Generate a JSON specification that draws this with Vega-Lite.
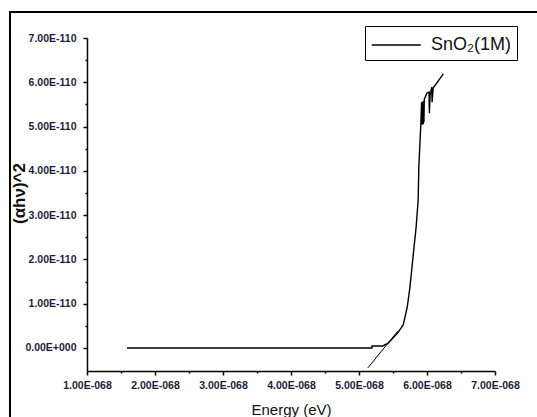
{
  "$schema": "https://vega.github.io/schema/vega-lite/v6.json",
  "autosize": {"type": "none"},
  "width": 529,
  "height": 407,
  "padding": {"left": 10, "top": 12, "right": -2, "bottom": -2},
  "background": "white",
  "config": {
    "view": {"stroke": "black", "strokeWidth": 2},
    "font": "Liberation Sans",
    "axis": {"grid": false, "domainColor": "black", "tickColor": "black"}
  },
  "datasets": {
    "curve": [
      {"i": 1, "energy": 1.588e-68, "ahv2": 0, "series": "SnO₂(1M)"},
      {"i": 2, "energy": 5.19e-68, "ahv2": 0, "series": "SnO₂(1M)"},
      {"i": 3, "energy": 5.19e-68, "ahv2": 0.045e-110, "series": "SnO₂(1M)"},
      {"i": 4, "energy": 5.35e-68, "ahv2": 0.045e-110, "series": "SnO₂(1M)"},
      {"i": 5, "energy": 5.43e-68, "ahv2": 0.11e-110, "series": "SnO₂(1M)"},
      {"i": 6, "energy": 5.57e-68, "ahv2": 0.34e-110, "series": "SnO₂(1M)"},
      {"i": 7, "energy": 5.65e-68, "ahv2": 0.52e-110, "series": "SnO₂(1M)"},
      {"i": 8, "energy": 5.71e-68, "ahv2": 0.93e-110, "series": "SnO₂(1M)"},
      {"i": 9, "energy": 5.75e-68, "ahv2": 1.38e-110, "series": "SnO₂(1M)"},
      {"i": 10, "energy": 5.79e-68, "ahv2": 1.99e-110, "series": "SnO₂(1M)"},
      {"i": 11, "energy": 5.84e-68, "ahv2": 2.73e-110, "series": "SnO₂(1M)"},
      {"i": 12, "energy": 5.87e-68, "ahv2": 3.34e-110, "series": "SnO₂(1M)"},
      {"i": 13, "energy": 5.88e-68, "ahv2": 4.09e-110, "series": "SnO₂(1M)"},
      {"i": 14, "energy": 5.91e-68, "ahv2": 5.08e-110, "series": "SnO₂(1M)"},
      {"i": 15, "energy": 5.92e-68, "ahv2": 5.55e-110, "series": "SnO₂(1M)"},
      {"i": 16, "energy": 5.925e-68, "ahv2": 5.05e-110, "series": "SnO₂(1M)"},
      {"i": 17, "energy": 5.93e-68, "ahv2": 5.56e-110, "series": "SnO₂(1M)"},
      {"i": 18, "energy": 5.935e-68, "ahv2": 5.04e-110, "series": "SnO₂(1M)"},
      {"i": 19, "energy": 5.94e-68, "ahv2": 5.57e-110, "series": "SnO₂(1M)"},
      {"i": 20, "energy": 5.945e-68, "ahv2": 5.06e-110, "series": "SnO₂(1M)"},
      {"i": 21, "energy": 5.95e-68, "ahv2": 5.55e-110, "series": "SnO₂(1M)"},
      {"i": 22, "energy": 5.955e-68, "ahv2": 5.10e-110, "series": "SnO₂(1M)"},
      {"i": 23, "energy": 5.96e-68, "ahv2": 5.62e-110, "series": "SnO₂(1M)"},
      {"i": 24, "energy": 6.00e-68, "ahv2": 5.76e-110, "series": "SnO₂(1M)"},
      {"i": 25, "energy": 6.03e-68, "ahv2": 5.78e-110, "series": "SnO₂(1M)"},
      {"i": 26, "energy": 6.035e-68, "ahv2": 5.30e-110, "series": "SnO₂(1M)"},
      {"i": 27, "energy": 6.045e-68, "ahv2": 5.70e-110, "series": "SnO₂(1M)"},
      {"i": 28, "energy": 6.07e-68, "ahv2": 5.89e-110, "series": "SnO₂(1M)"},
      {"i": 29, "energy": 6.075e-68, "ahv2": 5.55e-110, "series": "SnO₂(1M)"},
      {"i": 30, "energy": 6.09e-68, "ahv2": 5.87e-110, "series": "SnO₂(1M)"},
      {"i": 31, "energy": 6.24e-68, "ahv2": 6.19e-110, "series": "SnO₂(1M)"}
    ],
    "fit": [
      {"i": 1, "energy": 5.13e-68, "ahv2": -0.45e-110},
      {"i": 2, "energy": 5.57e-68, "ahv2": 0.38e-110}
    ]
  },
  "layer": [
    {
      "data": {"name": "curve"},
      "mark": {"type": "line", "strokeWidth": 1.4},
      "encoding": {
        "x": {
          "field": "energy", "type": "quantitative",
          "scale": {"domain": [1e-68, 7e-68], "range": [77, 485], "nice": false, "zero": false},
          "axis": {
            "orient": "bottom", "offset": -48,
            "values": [1e-68, 2e-68, 3e-68, 4e-68, 5e-68, 6e-68, 7e-68],
            "labelExpr": "replace(upper(format(datum.value, '.2e')), 'E-', 'E-0')",
            "labelFontSize": 10.5, "labelFontWeight": "bold", "labelColor": "#1c1c3a",
            "labelOverlap": false, "labelFlush": false,
            "labelPadding": 5, "tickSize": 4, "tickWidth": 1.5, "domainWidth": 1.5,
            "title": "Energy (eV)", "titleFontSize": 15, "titleFontWeight": "normal",
            "titleColor": "#111111", "titleBaseline": "top", "titleY": 31
          }
        },
        "y": {
          "field": "ahv2", "type": "quantitative",
          "scale": {"domain": [-0.52e-110, 7e-110], "range": [359, 26], "nice": false, "zero": false},
          "axis": {
            "orient": "left", "offset": -77,
            "values": [0, 1e-110, 2e-110, 3e-110, 4e-110, 5e-110, 6e-110, 7e-110],
            "labelExpr": "datum.value == 0 ? '0.00E+000' : upper(format(datum.value, '.2e'))",
            "labelFontSize": 10.5, "labelFontWeight": "bold", "labelColor": "#1c1c3a",
            "labelOverlap": false,
            "labelPadding": 7, "tickSize": 4, "tickWidth": 1.5, "domainWidth": 1.5,
            "title": "(αhν)^2", "titleFontSize": 17, "titleFontWeight": "bold",
            "titleColor": "#111111", "titleAngle": 270, "titleAlign": "center",
            "titleBaseline": "middle", "titleX": -68, "titleY": 181
          }
        },
        "order": {"field": "i"},
        "color": {
          "field": "series", "type": "nominal",
          "scale": {"range": ["black"]},
          "legend": {
            "orient": "none", "legendX": 355, "legendY": 14, "title": null,
            "strokeColor": "black", "fillColor": "white", "padding": 6,
            "symbolType": "M-1,0H3", "symbolSize": 600, "symbolStrokeWidth": 1.3,
            "labelFontSize": 18, "labelOffset": 34, "labelColor": "#111111"
          }
        }
      }
    },
    {
      "data": {"name": "fit"},
      "mark": {"type": "line", "strokeWidth": 1, "color": "black"},
      "encoding": {
        "x": {
          "field": "energy", "type": "quantitative",
          "scale": {"domain": [1e-68, 7e-68], "range": [77, 485], "nice": false, "zero": false},
          "axis": {
            "orient": "bottom", "offset": -48,
            "values": [1.5e-68, 2.5e-68, 3.5e-68, 4.5e-68, 5.5e-68, 6.5e-68],
            "labels": false, "domain": false, "tickSize": 2, "tickWidth": 1.5, "title": null
          }
        },
        "y": {
          "field": "ahv2", "type": "quantitative",
          "scale": {"domain": [-0.52e-110, 7e-110], "range": [359, 26], "nice": false, "zero": false},
          "axis": {
            "orient": "left", "offset": -77,
            "values": [0.5e-110, 1.5e-110, 2.5e-110, 3.5e-110, 4.5e-110, 5.5e-110, 6.5e-110],
            "labels": false, "domain": false, "tickSize": 2, "tickWidth": 1.5, "title": null
          }
        },
        "order": {"field": "i"}
      }
    }
  ],
  "resolve": {"axis": {"x": "independent", "y": "independent"}}
}
